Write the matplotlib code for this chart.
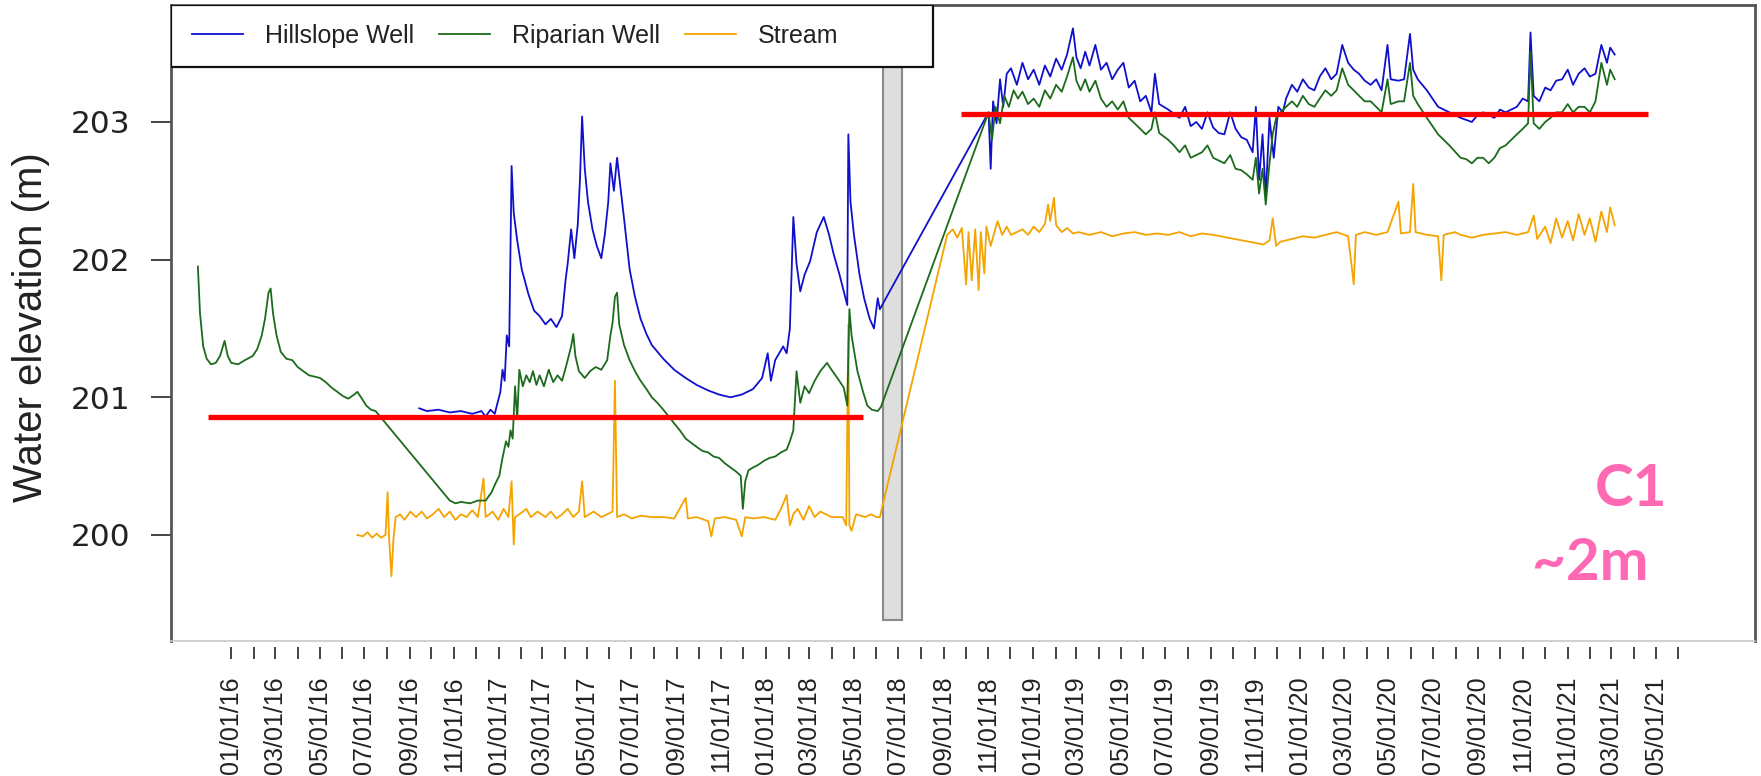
import numpy as np
import pandas as pd
import matplotlib
matplotlib.use("Agg")
from matplotlib import pyplot as plt
from matplotlib.patches import Rectangle
from matplotlib.ticker import FixedLocator, NullFormatter
import matplotlib.dates as mdates

# time in decimal years, water elevation in metres
hill_t = [
    2016.703, 2016.732, 2016.775, 2016.817, 2016.859, 2016.901, 2016.935, 2016.951, 2016.969, 2016.985,
    2016.998, 2017.006, 2017.014, 2017.022, 2017.030, 2017.039, 2017.048, 2017.056, 2017.069, 2017.086,
    2017.111, 2017.132, 2017.153, 2017.175, 2017.195, 2017.216, 2017.237, 2017.250, 2017.258, 2017.271,
    2017.283, 2017.296, 2017.304, 2017.312, 2017.322, 2017.334, 2017.351, 2017.367, 2017.384, 2017.397,
    2017.410, 2017.418, 2017.431, 2017.443, 2017.455, 2017.469, 2017.490, 2017.510, 2017.531, 2017.553,
    2017.573, 2017.616, 2017.657, 2017.700, 2017.741, 2017.784, 2017.825, 2017.868, 2017.910, 2017.952,
    2017.986, 2018.007, 2018.019, 2018.035, 2018.065, 2018.078, 2018.090, 2018.103, 2018.115, 2018.129,
    2018.145, 2018.166, 2018.191, 2018.217, 2018.237, 2018.254, 2018.276, 2018.292, 2018.305, 2018.309,
    2018.317, 2018.330, 2018.351, 2018.368, 2018.389, 2018.405, 2018.419, 2018.427,
    2018.834, 2018.842, 2018.851, 2018.864, 2018.877, 2018.889, 2018.902, 2018.918, 2018.940, 2018.961,
    2018.982, 2019.003, 2019.024, 2019.045, 2019.065, 2019.087, 2019.108, 2019.128, 2019.150, 2019.163,
    2019.179, 2019.196, 2019.212, 2019.234, 2019.255, 2019.276, 2019.297, 2019.318, 2019.339, 2019.359,
    2019.381, 2019.402, 2019.423, 2019.444, 2019.457, 2019.473, 2019.507, 2019.549, 2019.570, 2019.591,
    2019.612, 2019.633, 2019.654, 2019.675, 2019.696, 2019.717, 2019.739, 2019.759, 2019.780, 2019.801,
    2019.823, 2019.835, 2019.847, 2019.860, 2019.872, 2019.886, 2019.902, 2019.919, 2019.936, 2019.948,
    2019.970, 2019.990, 2020.011, 2020.033, 2020.054, 2020.074, 2020.095, 2020.117, 2020.137, 2020.158,
    2020.180, 2020.201, 2020.221, 2020.242, 2020.264, 2020.285, 2020.305, 2020.327, 2020.339, 2020.368,
    2020.389, 2020.411, 2020.423, 2020.440, 2020.474, 2020.516, 2020.558, 2020.600, 2020.642, 2020.663,
    2020.684, 2020.726, 2020.747, 2020.768, 2020.810, 2020.832, 2020.852, 2020.861, 2020.873, 2020.894,
    2020.916, 2020.936, 2020.957, 2020.979, 2021.000, 2021.020, 2021.041, 2021.063, 2021.083, 2021.104,
    2021.126, 2021.147, 2021.159, 2021.176,
]
hill_z = [
    200.92, 200.90, 200.91, 200.89, 200.90, 200.88, 200.90, 200.86, 200.91, 200.88,
    200.98, 201.04, 201.20, 201.12, 201.45, 201.37, 202.68, 202.34, 202.14, 201.93,
    201.75, 201.63, 201.59, 201.53, 201.57, 201.51, 201.59, 201.85, 201.97, 202.22,
    202.01, 202.26, 202.58, 203.04, 202.66, 202.42, 202.22, 202.10, 202.01, 202.18,
    202.42, 202.70, 202.50, 202.74, 202.54, 202.30, 201.93, 201.73, 201.57, 201.46,
    201.38, 201.28, 201.20, 201.14, 201.09, 201.05, 201.02, 201.00, 201.02, 201.06,
    201.14, 201.32, 201.12, 201.27, 201.37, 201.32, 201.50, 202.31, 201.97, 201.77,
    201.89, 201.99, 202.20, 202.31, 202.18, 202.04, 201.89, 201.77, 201.67, 202.91,
    202.42, 202.18, 201.89, 201.72, 201.57, 201.50, 201.72, 201.64,
    203.07, 202.66, 203.15, 202.99, 203.31, 203.11, 203.35, 203.39, 203.27, 203.43,
    203.31, 203.38, 203.27, 203.41, 203.33, 203.46, 203.38, 203.49, 203.68, 203.47,
    203.39, 203.51, 203.41, 203.56, 203.38, 203.43, 203.31, 203.38, 203.43, 203.25,
    203.30, 203.15, 203.19, 203.07, 203.35, 203.13, 203.09, 203.03, 203.11, 202.97,
    203.00, 202.95, 203.07, 202.96, 202.92, 202.91, 203.07, 202.95, 202.89, 202.87,
    202.78, 203.11, 202.58, 202.91, 202.46, 203.03, 202.74, 203.11, 203.07, 203.17,
    203.27, 203.22, 203.31, 203.25, 203.23, 203.33, 203.39, 203.31, 203.35, 203.56,
    203.43, 203.38, 203.35, 203.30, 203.27, 203.31, 203.23, 203.56, 203.31, 203.30,
    203.31, 203.64, 203.38, 203.31, 203.23, 203.11, 203.07, 203.03, 203.00, 203.05,
    203.07, 203.03, 203.09, 203.07, 203.11, 203.17, 203.15, 203.65, 203.19, 203.15,
    203.25, 203.23, 203.30, 203.31, 203.38, 203.27, 203.35, 203.39, 203.33, 203.35,
    203.56, 203.43, 203.54, 203.49,
]

rip_t = [
    2015.876, 2015.884, 2015.896, 2015.909, 2015.925, 2015.943, 2015.959, 2015.976, 2015.988, 2016.001,
    2016.027, 2016.052, 2016.081, 2016.098, 2016.115, 2016.127, 2016.140, 2016.148, 2016.157, 2016.170,
    2016.186, 2016.207, 2016.229, 2016.249, 2016.270, 2016.291, 2016.313, 2016.333, 2016.354, 2016.376,
    2016.397, 2016.417, 2016.438, 2016.460, 2016.472, 2016.489, 2016.505, 2016.523, 2016.540,
    2016.817, 2016.838, 2016.859, 2016.893, 2016.922, 2016.951, 2016.973, 2016.989, 2017.002, 2017.014,
    2017.027, 2017.036, 2017.044, 2017.052, 2017.061, 2017.069, 2017.077, 2017.090, 2017.103, 2017.116,
    2017.128, 2017.141, 2017.153, 2017.169, 2017.187, 2017.204, 2017.220, 2017.237, 2017.254, 2017.271,
    2017.279, 2017.287, 2017.300, 2017.322, 2017.342, 2017.363, 2017.384, 2017.406, 2017.418, 2017.426,
    2017.435, 2017.443, 2017.451, 2017.469, 2017.490, 2017.510, 2017.531, 2017.553, 2017.573, 2017.594,
    2017.616, 2017.637, 2017.657, 2017.678, 2017.700, 2017.720, 2017.741, 2017.763, 2017.784, 2017.804,
    2017.825, 2017.847, 2017.868, 2017.889, 2017.906, 2017.914, 2017.923, 2017.935, 2017.952, 2017.972,
    2017.994, 2018.015, 2018.035, 2018.057, 2018.078, 2018.090, 2018.103, 2018.115, 2018.129, 2018.145,
    2018.162, 2018.183, 2018.204, 2018.229, 2018.246, 2018.268, 2018.292, 2018.305, 2018.313, 2018.321,
    2018.343, 2018.364, 2018.380, 2018.397, 2018.419, 2018.431,
    2018.834, 2018.847, 2018.860, 2018.877, 2018.893, 2018.910, 2018.928, 2018.944, 2018.961, 2018.982,
    2019.003, 2019.024, 2019.045, 2019.065, 2019.087, 2019.108, 2019.128, 2019.150, 2019.163, 2019.179,
    2019.196, 2019.212, 2019.234, 2019.255, 2019.276, 2019.297, 2019.318, 2019.339, 2019.359, 2019.381,
    2019.402, 2019.423, 2019.444, 2019.457, 2019.473, 2019.507, 2019.528, 2019.549, 2019.570, 2019.591,
    2019.612, 2019.633, 2019.654, 2019.675, 2019.696, 2019.717, 2019.739, 2019.759, 2019.780, 2019.801,
    2019.823, 2019.835, 2019.847, 2019.860, 2019.872, 2019.886, 2019.898, 2019.911, 2019.927, 2019.948,
    2019.970, 2019.990, 2020.011, 2020.033, 2020.054, 2020.074, 2020.095, 2020.117, 2020.137, 2020.158,
    2020.180, 2020.201, 2020.221, 2020.242, 2020.264, 2020.285, 2020.305, 2020.327, 2020.339, 2020.368,
    2020.389, 2020.411, 2020.423, 2020.440, 2020.474, 2020.516, 2020.558, 2020.600, 2020.621, 2020.642,
    2020.663, 2020.684, 2020.705, 2020.726, 2020.747, 2020.768, 2020.789, 2020.810, 2020.832, 2020.852,
    2020.861, 2020.873, 2020.894, 2020.916, 2020.936, 2020.957, 2020.979, 2021.000, 2021.020, 2021.041,
    2021.063, 2021.083, 2021.104, 2021.126, 2021.147, 2021.159, 2021.176,
]
rip_z = [
    201.95, 201.61, 201.37, 201.28, 201.24, 201.25, 201.30, 201.41, 201.30, 201.25,
    201.24, 201.27, 201.30, 201.35, 201.45, 201.57, 201.76, 201.79, 201.61, 201.45,
    201.33, 201.28, 201.27, 201.22, 201.19, 201.16, 201.15, 201.14, 201.11, 201.07,
    201.04, 201.01, 200.99, 201.02, 201.04, 200.99, 200.94, 200.91, 200.90,
    200.25, 200.23, 200.24, 200.23, 200.25, 200.25, 200.31, 200.38, 200.43, 200.56,
    200.68, 200.64, 200.76, 200.70, 201.08, 200.84, 201.20, 201.08, 201.16, 201.11,
    201.19, 201.09, 201.16, 201.08, 201.20, 201.11, 201.16, 201.12, 201.24, 201.37,
    201.46, 201.30, 201.19, 201.14, 201.19, 201.22, 201.20, 201.27, 201.45, 201.54,
    201.73, 201.76, 201.53, 201.38, 201.27, 201.19, 201.12, 201.06, 201.00, 200.96,
    200.91, 200.86, 200.81, 200.76, 200.70, 200.67, 200.64, 200.61, 200.60, 200.57,
    200.56, 200.52, 200.49, 200.46, 200.43, 200.19, 200.39, 200.47, 200.49, 200.51,
    200.54, 200.56, 200.57, 200.60, 200.62, 200.68, 200.76, 201.19, 200.96, 201.08,
    201.03, 201.12, 201.19, 201.25, 201.20, 201.14, 201.07, 200.94, 201.64, 201.45,
    201.19, 201.04, 200.94, 200.91, 200.90, 200.93,
    203.07, 202.87, 203.11, 202.99, 203.19, 203.11, 203.23, 203.17, 203.22, 203.13,
    203.17, 203.11, 203.23, 203.17, 203.27, 203.22, 203.33, 203.47, 203.30, 203.23,
    203.31, 203.22, 203.30, 203.17, 203.11, 203.15, 203.09, 203.15, 203.03, 202.99,
    202.95, 202.91, 202.95, 203.07, 202.92, 202.87, 202.83, 202.78, 202.83, 202.74,
    202.76, 202.78, 202.83, 202.74, 202.72, 202.70, 202.76, 202.66, 202.65, 202.62,
    202.58, 202.74, 202.48, 202.66, 202.40, 202.70, 202.91, 203.03, 203.07, 203.11,
    203.15, 203.11, 203.19, 203.13, 203.11, 203.17, 203.23, 203.19, 203.23, 203.39,
    203.27, 203.23, 203.19, 203.15, 203.15, 203.11, 203.07, 203.31, 203.13, 203.15,
    203.15, 203.43, 203.19, 203.13, 203.03, 202.91, 202.83, 202.74, 202.73, 202.70,
    202.74, 202.74, 202.70, 202.74, 202.81, 202.83, 202.87, 202.91, 202.95, 202.99,
    203.51, 202.99, 202.95, 203.00, 203.03, 203.07, 203.07, 203.13, 203.07, 203.11,
    203.11, 203.07, 203.15, 203.43, 203.27, 203.38, 203.31,
]

stream_t = [
    2016.472, 2016.493, 2016.510, 2016.527, 2016.544, 2016.560, 2016.577, 2016.585, 2016.590, 2016.599,
    2016.607, 2016.615, 2016.632, 2016.648, 2016.670, 2016.691, 2016.712, 2016.732, 2016.754, 2016.775,
    2016.796, 2016.817, 2016.838, 2016.859, 2016.880, 2016.901, 2016.922, 2016.943, 2016.951, 2016.977,
    2016.998, 2017.018, 2017.036, 2017.048, 2017.056, 2017.061, 2017.077, 2017.103, 2017.120, 2017.145,
    2017.175, 2017.195, 2017.216, 2017.237, 2017.258, 2017.279, 2017.300, 2017.312, 2017.322, 2017.355,
    2017.384, 2017.406, 2017.426, 2017.435, 2017.443, 2017.469, 2017.498, 2017.531, 2017.573, 2017.616,
    2017.657, 2017.700, 2017.708, 2017.741, 2017.784, 2017.796, 2017.809, 2017.847, 2017.889, 2017.910,
    2017.923, 2017.952, 2017.994, 2018.035, 2018.057, 2018.078, 2018.090, 2018.103, 2018.119, 2018.141,
    2018.162, 2018.183, 2018.204, 2018.246, 2018.288, 2018.301, 2018.309, 2018.313, 2018.321, 2018.338,
    2018.372, 2018.393, 2018.415, 2018.427,
    2018.679, 2018.700, 2018.717, 2018.734, 2018.750, 2018.759, 2018.771, 2018.784, 2018.797, 2018.805,
    2018.818, 2018.826, 2018.842, 2018.856, 2018.868, 2018.885, 2018.902, 2018.918, 2018.940, 2018.961,
    2018.982, 2019.003, 2019.024, 2019.045, 2019.057, 2019.065, 2019.079, 2019.087, 2019.108, 2019.128,
    2019.150, 2019.171, 2019.212, 2019.255, 2019.297, 2019.339, 2019.381, 2019.423, 2019.465, 2019.507,
    2019.549, 2019.591, 2019.633, 2019.675, 2019.864, 2019.886, 2019.898, 2019.911, 2019.927, 2019.970,
    2020.011, 2020.054, 2020.095, 2020.137, 2020.180, 2020.201, 2020.209, 2020.242, 2020.285, 2020.327,
    2020.368, 2020.377, 2020.411, 2020.423, 2020.432, 2020.474, 2020.516, 2020.528, 2020.537, 2020.579,
    2020.600, 2020.642, 2020.684, 2020.726, 2020.768, 2020.810, 2020.852, 2020.873, 2020.886, 2020.916,
    2020.936, 2020.957, 2020.979, 2021.000, 2021.020, 2021.041, 2021.063, 2021.083, 2021.104, 2021.126,
    2021.147, 2021.159, 2021.176,
]
stream_z = [
    200.00, 199.99, 200.02, 199.98, 200.01, 199.98, 200.00, 200.31, 199.99, 199.70,
    199.98, 200.13, 200.15, 200.11, 200.17, 200.13, 200.17, 200.12, 200.15, 200.19,
    200.13, 200.17, 200.11, 200.15, 200.13, 200.18, 200.13, 200.41, 200.13, 200.17,
    200.11, 200.19, 200.13, 200.39, 199.93, 200.13, 200.15, 200.19, 200.13, 200.17,
    200.13, 200.17, 200.12, 200.15, 200.19, 200.13, 200.17, 200.39, 200.13, 200.17,
    200.13, 200.15, 200.17, 201.12, 200.13, 200.15, 200.12, 200.14, 200.13, 200.13,
    200.12, 200.27, 200.12, 200.13, 200.10, 199.99, 200.12, 200.13, 200.11, 199.99,
    200.13, 200.12, 200.13, 200.11, 200.19, 200.29, 200.07, 200.15, 200.19, 200.11,
    200.21, 200.13, 200.17, 200.13, 200.13, 200.07, 201.53, 200.07, 200.03, 200.15,
    200.13, 200.15, 200.13, 200.13,
    202.18, 202.22, 202.16, 202.23, 201.82, 202.20, 201.85, 202.22, 201.78, 202.20,
    201.90, 202.24, 202.10, 202.20, 202.28, 202.18, 202.24, 202.18, 202.20, 202.22,
    202.18, 202.24, 202.20, 202.26, 202.40, 202.28, 202.45, 202.25, 202.20, 202.23,
    202.19, 202.20, 202.18, 202.20, 202.17, 202.19, 202.20, 202.18, 202.19, 202.18,
    202.20, 202.17, 202.19, 202.18, 202.11, 202.14, 202.30, 202.10, 202.13, 202.15,
    202.17, 202.16, 202.18, 202.20, 202.17, 201.82, 202.18, 202.20, 202.18, 202.20,
    202.42, 202.19, 202.20, 202.55, 202.20, 202.18, 202.17, 201.85, 202.18, 202.20,
    202.18, 202.16, 202.18, 202.19, 202.20, 202.18, 202.20, 202.32, 202.15, 202.24,
    202.12, 202.30, 202.16, 202.28, 202.14, 202.33, 202.18, 202.30, 202.13, 202.35,
    202.20, 202.38, 202.25,
]

# reference levels before and after the channel work
level_before = (2015.913, 2018.363, 200.86)
level_after = (2018.729, 2021.301, 203.06)
works_period = (2018.437, 2018.510)


def to_dates(years):
    years = np.asarray(years, dtype=float)
    y0 = np.floor(years).astype(int)
    start = pd.to_datetime(y0.astype(str), format="%Y")
    end = pd.to_datetime((y0 + 1).astype(str), format="%Y")
    return start + (end - start) * (years - y0)


fig = plt.figure(figsize=(17.61, 7.76), dpi=100)
ax = fig.add_axes([0.0971, 0.1740, 0.8995, 0.8196])

# shaded construction window
w0, w1 = to_dates(works_period)
x0 = mdates.date2num(w0)
x1 = mdates.date2num(w1)
ax.add_patch(Rectangle((x0, 199.38), x1 - x0, 4.6, facecolor="#dedede",
                       edgecolor="#8a8a8a", lw=1.5, zorder=1))

ax.plot(to_dates(hill_t), hill_z, color="#1010cc", lw=1.3, label="Hillslope Well", zorder=3)
ax.plot(to_dates(rip_t), rip_z, color="#1c6b1c", lw=1.3, label="Riparian Well", zorder=3)
ax.plot(to_dates(stream_t), stream_z, color="#f5a300", lw=1.3, label="Stream", zorder=2)

for t0, t1, z in (level_before, level_after):
    d = to_dates([t0, t1])
    ax.plot(d, [z, z], color="#ff0000", lw=3.8, solid_capstyle="butt", zorder=4)

ax.set_xlim(pd.Timestamp("2015-10-11"), pd.Timestamp("2021-09-14"))
ax.set_ylim(199.23, 203.85)

# monthly ticks, labels on odd months
major = pd.date_range("2016-01-01", "2021-05-01", freq="2MS")
minor = pd.date_range("2016-02-01", "2021-06-01", freq="2MS")
ax.xaxis.set_major_locator(FixedLocator(mdates.date2num(major)))
ax.xaxis.set_minor_locator(FixedLocator(mdates.date2num(minor)))
ax.xaxis.set_major_formatter(mdates.DateFormatter("%m/%d/%y"))
ax.xaxis.set_minor_formatter(NullFormatter())
ax.tick_params(axis="x", which="both", direction="out", length=8.6, width=1.4,
               color="#444444", pad=13)
ax.tick_params(axis="x", which="major", labelrotation=90, labelsize=18,
               labelfontfamily="Liberation Sans", labelcolor="#222222")

ax.set_yticks([200, 201, 202, 203])
ax.tick_params(axis="y", direction="out", length=14.4, width=1.4, color="#444444",
               pad=15, labelsize=22.5, labelcolor="#222222")

for side in ("left", "top", "right"):
    ax.spines[side].set_color("#555555")
    ax.spines[side].set_linewidth(2.0)
ax.spines["bottom"].set_position(("outward", 4))
ax.spines["bottom"].set_visible(False)
ax.plot([0, 1], [0, 0], transform=ax.transAxes, color="#c8c8c8", lw=1.2,
        clip_on=False, zorder=5)

# legend box across the top-left corner
ax.add_patch(Rectangle((0, 0.9025), 0.481, 0.0975, transform=ax.transAxes,
                       facecolor="white", edgecolor="#111111", lw=1.6, zorder=6))
leg = ax.legend(loc="center left", bbox_to_anchor=(0.0133, 0.951), ncol=3,
                frameon=False, borderpad=0, borderaxespad=0, handlelength=2.04,
                handletextpad=0.88, columnspacing=1.0,
                prop={"family": "Liberation Sans", "size": 18})
leg.set_zorder(7)
for text in leg.get_texts():
    text.set_color("#222222")

fig.text(0.0176, 0.579, "Water elevation (m)", rotation=90, ha="center", va="center",
         fontsize=29, family="Liberation Sans", color="#222222")

fig.text(0.926, 0.348, "C1", ha="center", va="baseline", fontsize=42,
         family="Lato", weight="bold", color="#ff69b4")
fig.text(0.903, 0.252, "~2m", ha="center", va="baseline", fontsize=42,
         family="Lato", weight="bold", color="#ff69b4")

fig.savefig("out.png", dpi=100)
